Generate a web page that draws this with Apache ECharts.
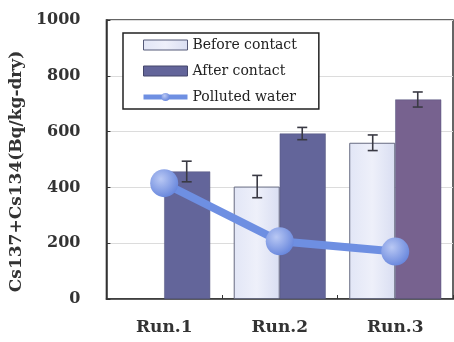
<!DOCTYPE html>
<html><head><meta charset="utf-8">
<script src="https://cdn.jsdelivr.net/npm/echarts@6/dist/echarts.min.js"></script>
<style>html,body{margin:0;padding:0;background:#fff}#c{width:454px;height:342px}</style>
</head><body><div id="c"></div>
<script>
const categories = ['Run.1', 'Run.2', 'Run.3'];
const beforeContact = [null, 403, 560];
const beforeErr = [null, 40, 28];
const afterContact = [457, 593, 715];
const afterErr = [37, 22, 27];
const pollutedWater = [415, 207, 170];
const yMin = 0, yMax = 1000, yStep = 200;

const FONT = 'DejaVu Serif';
const BAR_W = 46;
const AFTER_COLOR = '#63659a';
const AFTER_COLOR_3 = '#77628f';
const BEFORE_FILL = new echarts.graphic.LinearGradient(0, 0, 1, 0, [
  { offset: 0, color: '#e2e6f6' }, { offset: 0.5, color: '#eef0fa' }, { offset: 1, color: '#d9def2' }]);

function errSeries(name, vals, errs, side) {
  const data = [];
  vals.forEach((v, i) => { if (v != null) data.push([i, v, errs[i]]); });
  return {
    name: name, type: 'custom', silent: true, z: 6,
    encode: { x: 0, y: 1 },
    data: data,
    renderItem: function (params, api) {
      const i = api.value(0), v = api.value(1), e = api.value(2);
      const bw = api.size([1, 0])[0] * (BAR_W / 118);
      const x = api.coord([i, v])[0] + side * bw / 2;
      const yh = api.coord([i, v + e])[1];
      const yl = api.coord([i, v - e])[1];
      const cap = 5;
      const st = { stroke: '#3a3a44', lineWidth: 1.6 };
      return { type: 'group', children: [
        { type: 'line', shape: { x1: x, y1: yh, x2: x, y2: yl }, style: st },
        { type: 'line', shape: { x1: x - cap, y1: yh, x2: x + cap, y2: yh }, style: st },
        { type: 'line', shape: { x1: x - cap, y1: yl, x2: x + cap, y2: yl }, style: st }
      ]};
    }
  };
}

const afterData = afterContact.map((v, i) => i === 2 ? { value: v, itemStyle: { color: AFTER_COLOR_3 } } : v);

const chart = echarts.init(document.getElementById('c'), null, { renderer: 'canvas' });
chart.setOption({
  animation: false,
  backgroundColor: '#ffffff',
  grid: { left: 98, right: 1, top: 20, bottom: 43, show: true, borderColor: '#333', borderWidth: 1.5, backgroundColor: '#fff' },
  legend: {
    data: [
      { name: 'Before contact', icon: 'rect', itemStyle: { color: BEFORE_FILL, borderColor: '#555a78', borderWidth: 1 } },
      { name: 'After contact', icon: 'rect', itemStyle: { color: AFTER_COLOR, borderColor: '#44466a', borderWidth: 1 } },
      { name: 'Polluted water', lineStyle: { width: 5 } }
    ],
    orient: 'vertical', left: 123, top: 33,
    padding: [5, 22, 5, 18], itemGap: 12,
    itemWidth: 44, itemHeight: 10,
    backgroundColor: '#fff', borderColor: '#222', borderWidth: 1.5,
    textStyle: { fontFamily: FONT, fontSize: 14, color: '#222' }
  },
  xAxis: {
    type: 'category', data: categories,
    axisLine: { lineStyle: { color: '#333', width: 1.5 } },
    axisTick: { show: true, inside: true, length: 4, lineStyle: { color: '#333' } },
    axisLabel: { margin: 20, fontFamily: FONT, fontWeight: 'bold', fontSize: 17, color: '#333' }
  },
  yAxis: {
    type: 'value', min: yMin, max: yMax, interval: yStep,
    name: 'Cs137+Cs134(Bq/kg-dry)', nameLocation: 'middle', nameGap: 55,
    nameTextStyle: { fontFamily: FONT, fontWeight: 'bold', fontSize: 17, color: '#333', padding: [0, 24, 0, 0] },
    axisLine: { show: true, lineStyle: { color: '#333', width: 1.5 } },
    axisTick: { show: true, inside: true, length: 4, lineStyle: { color: '#333' } },
    splitLine: { lineStyle: { color: '#dcdcdc' } },
    axisLabel: { margin: 26, fontFamily: FONT, fontWeight: 'bold', fontSize: 16, color: '#333',
      formatter: function (v) { return String(v); } }
  },
  series: [
    { name: 'Before contact', type: 'bar', data: beforeContact, barWidth: BAR_W, barGap: '0%',
      itemStyle: { color: BEFORE_FILL, borderColor: '#666a80', borderWidth: 1 } },
    { name: 'After contact', type: 'bar', data: afterData, barWidth: BAR_W, barGap: '0%',
      itemStyle: { color: AFTER_COLOR, borderColor: '#55567f', borderWidth: 0.5 } },
    errSeries('errBefore', beforeContact, beforeErr, -1),
    errSeries('errAfter', afterContact, afterErr, 1),
    { name: 'Polluted water', type: 'line', data: pollutedWater, z: 10,
      symbol: 'circle', symbolSize: 28,
      lineStyle: { color: '#6e8fe2', width: 8 },
      itemStyle: { color: new echarts.graphic.RadialGradient(0.38, 0.35, 0.7, [
        { offset: 0, color: '#b9c8f4' }, { offset: 1, color: '#6685dc' }]) } }
  ]
});
</script>
</body></html>
